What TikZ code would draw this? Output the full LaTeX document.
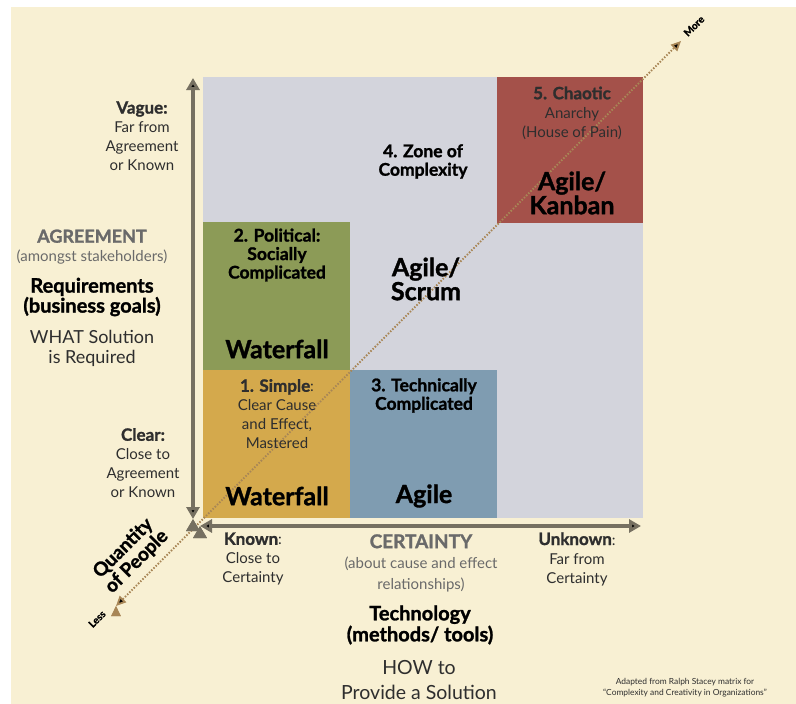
\documentclass[tikz,border=0pt]{standalone}
\usepackage{fontspec}
\setmainfont{Lato}[BoldFeatures={FakeBold=1.3}]
\usetikzlibrary{arrows.meta}

\definecolor{cream}{HTML}{F8F0D3}
\definecolor{zonegray}{HTML}{D3D4DC}
\definecolor{chaosred}{HTML}{A4514A}
\definecolor{politgreen}{HTML}{8C9B57}
\definecolor{simpleyellow}{HTML}{D4A94C}
\definecolor{techblue}{HTML}{7F9CB1}
\definecolor{axisgray}{HTML}{767061}
\definecolor{dotbrown}{HTML}{A88656}
\definecolor{txtgray}{HTML}{2E2E2E}
\definecolor{capgray}{HTML}{6A6A6A}

\newcommand\headline[1]{{\fontsize{17}{19}\selectfont\bfseries #1}}

\begin{document}
\begin{tikzpicture}[x=1pt,y=-1pt,
	box/.style={shape=rectangle,inner sep=0pt,minimum width=147pt,minimum height=148pt},
	txt/.style={align=center,text=txtgray,font=\fontsize{15}{19}\selectfont},
	title/.style={align=center,text=black,font=\fontsize{17.5}{18.5}\selectfont\bfseries},
	method/.style={align=center,text=black,font=\fontsize{25}{24}\selectfont\bfseries},
	axis/.style={draw=axisgray,line width=4pt,{Triangle[length=12pt,width=13pt]}-{Triangle[length=12pt,width=13pt]}},
	people/.style={draw=dotbrown,line width=1.8pt,dash pattern=on 1.5pt off 1.6pt,{Triangle[length=10pt,width=9pt]}-{Triangle[length=10pt,width=9pt]}}]
	\fill[white] (0,0) rectangle (796,704);
	\fill[cream] (11,7) rectangle (796,704);
	% quadrants
	\node[box,fill=zonegray,minimum width=440pt,minimum height=441pt] (Zone) at (423,297.5) {};
	\node[box,fill=chaosred,minimum width=146pt,minimum height=146pt] (Chaotic) at (570,150) {};
	\node[box,fill=politgreen] (Political) at (276.5,296) {};
	\node[box,fill=simpleyellow] (Simple) at (276.5,444) {};
	\node[box,fill=techblue] (Technical) at (423.5,444) {};
	% axes
	\coordinate (YTop) at (193,78);
	\coordinate (YBot) at (193,519);
	\coordinate (XLeft) at (200,526);
	\coordinate (XRight) at (641,526);
	\coordinate (Less) at (116,606);
	\coordinate (More) at (681,41);
	\path [people] (Less) edge (More);
	\path [axis] (YBot) edge (YTop);
	\path [axis] (XLeft) edge (XRight);
	% left side
	\node[txt] (Vague) at (142,136) {\headline{Vague:}\\Far from\\Agreement\\or Known};
	\node[txt,text=capgray] (Agreement) at (92,247) {{\fontsize{18}{19}\selectfont\bfseries AGREEMENT}\\(amongst stakeholders)};
	\node[align=center,font=\fontsize{20}{20}\selectfont\bfseries] (Requirements) at (92,297) {Requirements\\(business goals)};
	\node[align=center,text=txtgray,font=\fontsize{18}{20}\selectfont] (What) at (92,348) {WHAT Solution\\is Required};
	\node[txt] (Clear) at (143,463) {\headline{Clear:}\\Close to\\Agreement\\or Known};
	% quadrant texts
	\node[title] (PoliticalTitle) at (277,255) {2. Political:\\Socially\\Complicated};
	\node[method] (PoliticalMethod) at (277,349) {Waterfall};
	\node[txt] (SimpleTitle) at (277,414) {\headline{1. Simple}:\\Clear Cause\\and Effect,\\Mastered};
	\node[method] (SimpleMethod) at (277,496) {Waterfall};
	\node[title] (TechnicalTitle) at (424,395.5) {3. Technically\\Complicated};
	\node[method] (TechnicalMethod) at (424,496) {Agile};
	\node[title] (ZoneTitle) at (423,161.5) {4. Zone of\\Complexity};
	\node[method] (ZoneMethod) at (426,279) {Agile/\\Scrum};
	\node[txt] (ChaoticTitle) at (572,113) {\headline{5. Chaotic}\\Anarchy\\(House of Pain)};
	\node[method] (ChaoticMethod) at (572,193) {Agile/\\Kanban};
	% bottom
	\node[txt] (Known) at (253,559) {\headline{Known}:\\Close to\\Certainty};
	\node[txt,text=capgray,font=\fontsize{15}{20.5}\selectfont] (Certainty) at (421,563) {{\fontsize{19}{19}\selectfont\bfseries CERTAINTY}\\(about cause and effect\\relationships)};
	\node[align=center,font=\fontsize{20}{21}\selectfont\bfseries] (Technology) at (420,625) {Technology\\(methods/ tools)};
	\node[align=center,text=txtgray,font=\fontsize{19.5}{25}\selectfont] (How) at (419,680) {HOW to\\Provide a Solution};
	\node[txt] (Unknown) at (577,559) {\headline{Unknown}:\\Far from\\Certainty};
	\node[align=center,text=txtgray,font=\fontsize{8.4}{11}\selectfont] (Credit) at (685,688) {Adapted from Ralph Stacey matrix for\\“Complexity and Creativity in Organizations”};
	% diagonal labels
	\node[align=center,rotate=45,font=\fontsize{19}{19}\selectfont\bfseries] (People) at (130,555) {Quantity\\of People};
	\node[rotate=45,font=\fontsize{10}{10}\selectfont\bfseries] (LessLabel) at (97,619) {Less};
	\node[rotate=45,font=\fontsize{10}{10}\selectfont\bfseries] (MoreLabel) at (694,26) {More};
\end{tikzpicture}
\end{document}
